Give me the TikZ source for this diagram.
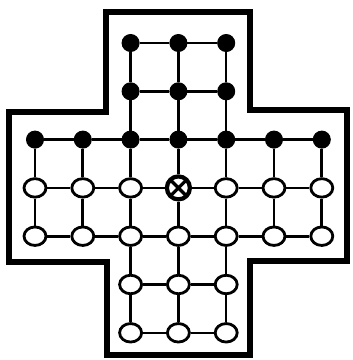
\documentclass[tikz,border=0pt]{standalone}
\usetikzlibrary{shapes.geometric}
\begin{document}
\begin{tikzpicture}[x=1pt,y=-1pt,
  wpt/.style={ellipse,draw,line width=2.8pt,fill=white,minimum width=22pt,minimum height=18.5pt,inner sep=0pt},
  bpt/.style={circle,draw,fill=black,line width=1pt,minimum size=17pt,inner sep=0pt},
  cpt/.style={circle,draw,line width=4.2pt,fill=white,minimum size=23pt,inner sep=0pt,
    path picture={\draw[line width=3.2pt] (path picture bounding box.north west) -- (path picture bounding box.south east)
      (path picture bounding box.north east) -- (path picture bounding box.south west);}},
  gridline/.style={line width=2.6pt},
  frame/.style={line width=6.5pt,line join=miter}]
\useasboundingbox (0,0) rectangle (353,360);
\draw[frame] (106,12) -- (250,12) -- (250,110) -- (347,110) -- (347,261) -- (250,261)
  -- (250,355) -- (107,355) -- (107,262) -- (9,262) -- (9,112) -- (106,112) -- cycle;
% black points
\foreach \rr in {0,1} \foreach \cc in {2,3,4}
  \node[bpt] (n\rr\cc) at ({35+47.8*\cc},{43+48.3*\rr}) {};
\foreach \cc in {0,...,6}
  \node[bpt] (n2\cc) at ({35+47.8*\cc},{43+48.3*2}) {};
% white points
\foreach \cc in {0,1,2,4,5,6}
  \node[wpt] (n3\cc) at ({35+47.8*\cc},{43+48.3*3}) {};
\node[cpt] (n33) at ({35+47.8*3},{43+48.3*3}) {};
\foreach \cc in {0,...,6}
  \node[wpt] (n4\cc) at ({35+47.8*\cc},{43+48.3*4}) {};
\foreach \rr in {5,6} \foreach \cc in {2,3,4}
  \node[wpt] (n\rr\cc) at ({35+47.8*\cc},{43+48.3*\rr}) {};
% horizontal lines
\foreach \rr in {0,1,5,6} \foreach \aa/\bb in {2/3,3/4}
  \draw[gridline] (n\rr\aa) -- (n\rr\bb);
\foreach \rr in {2,3,4} \foreach \aa/\bb in {0/1,1/2,2/3,3/4,4/5,5/6}
  \draw[gridline] (n\rr\aa) -- (n\rr\bb);
% vertical lines
\foreach \cc in {2,3,4} \foreach \aa/\bb in {0/1,1/2,2/3,3/4,4/5,5/6}
  \draw[gridline] (n\aa\cc) -- (n\bb\cc);
\foreach \cc in {0,1,5,6} \foreach \aa/\bb in {2/3,3/4}
  \draw[gridline] (n\aa\cc) -- (n\bb\cc);
\end{tikzpicture}
\end{document}
